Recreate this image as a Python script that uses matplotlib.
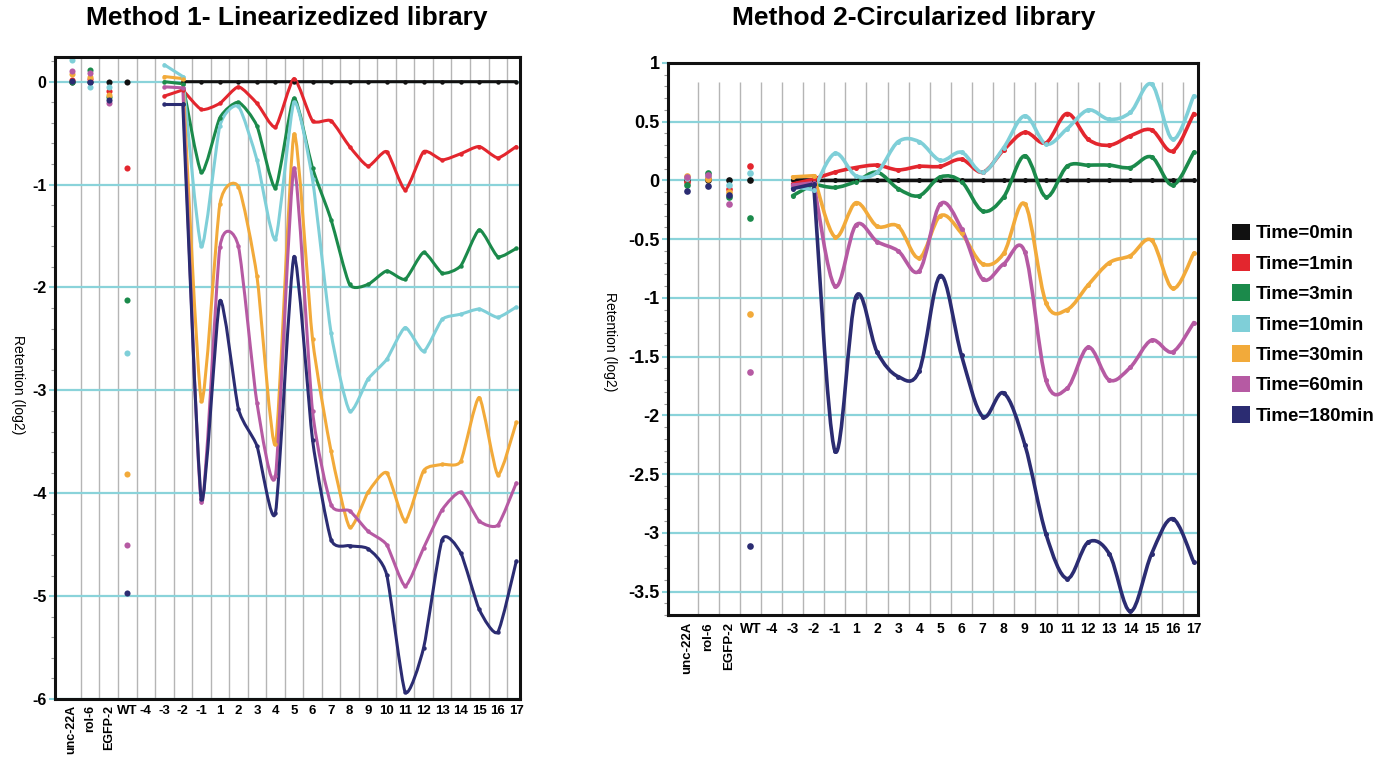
import numpy as np
import matplotlib.pyplot as plt
from matplotlib.path import Path
from matplotlib.patches import PathPatch, Patch
from matplotlib.ticker import MultipleLocator

plt.rcParams['font.family'] = ['Liberation Sans', 'DejaVu Sans']

nan = np.nan

# x categories: four control constructs, then positions -4..-1, 1..17
controls = ['unc-22A', 'rol-6', 'EGFP-2', 'WT']
positions = ['-4', '-3', '-2', '-1', '1', '2', '3', '4', '5', '6', '7', '8', '9',
             '10', '11', '12', '13', '14', '15', '16', '17']
categories = controls + positions

times = ['Time=0min', 'Time=1min', 'Time=3min', 'Time=10min',
         'Time=30min', 'Time=60min', 'Time=180min']
colors = ['#111111', '#e3262e', '#1b8a4b', '#7fcfd8', '#f2aa3a', '#b65aa3', '#2b2c72']

# Method 1 - linearized library, log2 retention
lin_t0 = [0, 0, 0, 0, nan, nan, 0, 0, 0, 0, 0, 0, 0, 0, 0, 0, 0, 0, 0, 0, 0, 0, 0, 0, 0]
lin_t1 = [0.02, 0.03, -0.09, -0.84, nan, -0.14, -0.08, -0.27, -0.21, -0.05, -0.21, -0.44,
          0.03, -0.38, -0.38, -0.63, -0.82, -0.68, -1.05, -0.68, -0.76, -0.70, -0.63, -0.74, -0.63]
lin_t3 = [0.0, 0.11, -0.15, -2.12, nan, 0.0, -0.02, -0.88, -0.35, -0.20, -0.43, -1.03,
          -0.16, -0.84, -1.34, -1.97, -1.97, -1.84, -1.92, -1.66, -1.86, -1.79, -1.44, -1.70, -1.62]
lin_t10 = [0.21, -0.05, -0.05, -2.64, nan, 0.165, 0.05, -1.60, -0.43, -0.24, -0.76, -1.53,
           -0.20, -0.95, -2.44, -3.20, -2.89, -2.70, -2.39, -2.62, -2.31, -2.26, -2.21, -2.29, -2.19]
lin_t30 = [0.07, 0.05, -0.13, -3.81, nan, 0.05, 0.03, -3.10, -1.19, -1.02, -1.89, -3.52,
           -0.51, -2.50, -3.59, -4.33, -3.99, -3.80, -4.27, -3.78, -3.72, -3.69, -3.07, -3.82, -3.31]
lin_t60 = [0.10, 0.08, -0.21, -4.50, nan, -0.05, -0.06, -4.09, -1.61, -1.60, -3.12, -3.83,
           -0.84, -3.20, -4.11, -4.17, -4.37, -4.50, -4.90, -4.53, -4.16, -3.99, -4.27, -4.31, -3.90]
lin_t180 = [0.01, 0.0, -0.18, -4.97, nan, -0.22, -0.22, -4.06, -2.13, -3.18, -3.54, -4.19,
            -1.70, -3.48, -4.45, -4.51, -4.54, -4.79, -5.93, -5.50, -4.45, -4.58, -5.13, -5.35, -4.66]

# Method 2 - circularized library, log2 retention
circ_t0 = [0, 0, 0, 0, nan, 0, 0, 0, 0, 0, 0, 0, 0, 0, 0, 0, 0, 0, 0, 0, 0, 0, 0, 0, 0]
circ_t1 = [-0.01, 0.02, -0.07, 0.12, nan, -0.03, 0.01, 0.07, 0.11, 0.13, 0.09, 0.12,
           0.12, 0.18, 0.07, 0.26, 0.41, 0.32, 0.57, 0.35, 0.30, 0.38, 0.43, 0.25, 0.57]
circ_t3 = [-0.04, 0.06, -0.14, -0.32, nan, -0.13, -0.03, -0.06, -0.01, 0.07, -0.07, -0.13,
           0.03, -0.01, -0.26, -0.14, 0.21, -0.14, 0.12, 0.13, 0.13, 0.11, 0.20, -0.04, 0.24]
circ_t10 = [0.02, 0.04, -0.04, 0.06, nan, -0.05, -0.08, 0.23, 0.04, 0.07, 0.33, 0.33,
            0.17, 0.24, 0.07, 0.28, 0.55, 0.31, 0.44, 0.60, 0.52, 0.58, 0.82, 0.35, 0.72]
circ_t30 = [0.04, 0.01, -0.10, -1.14, nan, 0.03, 0.04, -0.48, -0.19, -0.39, -0.39, -0.66,
            -0.30, -0.45, -0.71, -0.62, -0.20, -1.04, -1.10, -0.89, -0.70, -0.64, -0.51, -0.92, -0.62]
circ_t60 = [0.03, 0.05, -0.20, -1.63, nan, -0.04, -0.02, -0.90, -0.38, -0.52, -0.60, -0.77,
            -0.20, -0.41, -0.84, -0.71, -0.61, -1.70, -1.77, -1.42, -1.70, -1.59, -1.36, -1.46, -1.21]
circ_t180 = [-0.09, -0.05, -0.12, -3.11, nan, -0.07, -0.03, -2.30, -0.99, -1.46, -1.67, -1.62,
             -0.81, -1.49, -2.01, -1.81, -2.25, -3.01, -3.39, -3.08, -3.18, -3.67, -3.18, -2.88, -3.25]

lin_series = [lin_t0, lin_t1, lin_t3, lin_t10, lin_t30, lin_t60, lin_t180]
circ_series = [circ_t0, circ_t1, circ_t3, circ_t10, circ_t30, circ_t60, circ_t180]

grid_cyan = '#8ad3da'
# the -3/-2 run-in is drawn straight, the rest of each series is smoothed from -2 on
split_at = categories.index('-2')


def smooth_line(ax, x, y, color, lw, k):
    # cubic bezier through the points (catmull-rom style control points)
    verts = [(x[0], y[0])]
    codes = [Path.MOVETO]
    n = len(x)
    for i in range(n - 1):
        xa, ya = (x[i - 1], y[i - 1]) if i > 0 else (x[i], y[i])
        xb, yb = (x[i + 2], y[i + 2]) if i + 2 < n else (x[i + 1], y[i + 1])
        c1 = (x[i] + (x[i + 1] - xa) * k, y[i] + (y[i + 1] - ya) * k)
        c2 = (x[i + 1] - (xb - x[i]) * k, y[i + 1] - (yb - y[i]) * k)
        verts += [c1, c2, (x[i + 1], y[i + 1])]
        codes += [Path.CURVE4] * 3
    ax.add_patch(PathPatch(Path(verts, codes), fill=False, edgecolor=color, lw=lw,
                           capstyle='round', joinstyle='round', zorder=3))


def draw_panel(ax, series, ylim, grid_top, major, minor, lw, ms, k, ytick_size, xtick_size, xpad):
    idx = np.arange(len(categories))
    ax.set_xlim(-0.9, len(categories) - 0.8)
    ax.set_ylim(*ylim)
    ax.vlines(idx[:-1] + 0.5, ylim[0], grid_top, color='#b5b5b5', lw=1.0, zorder=1)
    for yv in np.arange(np.ceil(ylim[0] / major) * major, ylim[1] + 1e-9, major):
        ax.axhline(yv, color=grid_cyan, lw=1.6, zorder=1)
    nc = len(controls)
    for vals, col in zip(series, colors):
        v = np.array(vals, dtype=float)
        ax.plot(idx[:nc], v[:nc], 'o', color=col, ms=ms + 1.2, mec='none', zorder=4)
        pre = slice(split_at - 1, split_at + 1)
        if not np.isnan(v[pre]).any():
            ax.plot(idx[pre], v[pre], '-o', color=col, lw=lw, ms=ms, mec='none',
                    solid_capstyle='round', zorder=3)
        xs = idx[split_at:]
        ys = v[split_at:]
        smooth_line(ax, xs, ys, col, lw, k)
        ax.plot(xs, ys, 'o', color=col, ms=ms, mec='none', zorder=4)

    ax.set_xticks(idx)
    ax.set_xticklabels(categories, fontsize=xtick_size, fontweight='bold')
    for lab in ax.get_xticklabels()[:3]:
        lab.set_rotation(90)
        lab.set_fontsize(xtick_size - 0.5)
    ax.tick_params(axis='x', length=0, pad=xpad)
    ax.yaxis.set_major_locator(MultipleLocator(major))
    ax.yaxis.set_minor_locator(MultipleLocator(minor))
    ax.tick_params(axis='y', which='major', length=4, width=1.5, color=grid_cyan,
                   labelsize=ytick_size, pad=2)
    ax.tick_params(axis='y', which='minor', length=3, width=0.8, color='#999999')
    for sp in ax.spines.values():
        sp.set_linewidth(2.2)
        sp.set_color('#111111')
        sp.set_zorder(5)


fig = plt.figure(figsize=(13.78, 7.58), dpi=100)
ax1 = fig.add_axes([55 / 1378, 1 - 699 / 758, 465 / 1378, 642 / 758])
ax2 = fig.add_axes([668 / 1378, 1 - 615 / 758, 530 / 1378, 552 / 758])

draw_panel(ax1, lin_series, (-6, 0.24), 0.24, 1, 0.2, 2.2, 3.2, 0.1, 11.5, 9.5, 4)
draw_panel(ax2, circ_series, (-3.7, 1.0), 0.84, 0.5, 0.1, 2.6, 3.6, 1 / 6, 13, 10, 5)
ax1.set_yticks(np.arange(-6, 1, 1))
ax1.set_yticklabels([f'{t:g}' for t in ax1.get_yticks()], fontweight='bold')
ax2.set_yticks(np.arange(-3.5, 1.01, 0.5))
ax2.set_yticklabels([f'{t:g}' for t in ax2.get_yticks()], fontweight='bold')

fig.text(287 / 1378, 1 - 18 / 758, 'Method 1- Linearizedized library', ha='center', va='center',
         fontsize=19, fontweight='bold')
fig.text(914 / 1378, 1 - 18 / 758, 'Method 2-Circularized library', ha='center', va='center',
         fontsize=19, fontweight='bold')
fig.text(18 / 1378, 1 - 385 / 758, 'Retention (log2)', rotation=270, ha='center', va='center',
         fontsize=10)
fig.text(610 / 1378, 1 - 342 / 758, 'Retention (log2)', rotation=270, ha='center', va='center',
         fontsize=10)

handles = [Patch(facecolor=c, edgecolor='none') for c in colors]
fig.legend(handles, times, loc='upper left', bbox_to_anchor=(1224 / 1378, 1 - 216 / 758),
           frameon=False, handlelength=1.0, handleheight=1.0, handletextpad=0.3,
           labelspacing=0.62, borderaxespad=0, prop={'weight': 'bold', 'size': 13.5})

fig.savefig('out.png', dpi=100)
